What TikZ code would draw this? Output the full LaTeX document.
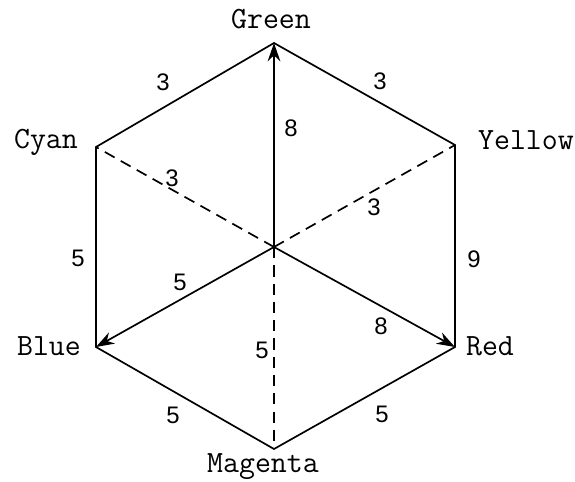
\documentclass[tikz,border=0pt]{standalone}
\usepackage{fontspec}
\newfontfamily\numfont{Liberation Sans}
\usetikzlibrary{arrows.meta}

\begin{document}
\begin{tikzpicture}[
    x=0.025cm, y=-0.025cm,
    edge/.style={line width=1.2pt},
    ray/.style={edge, -{Stealth[length=13pt, width=9pt]}},
    hidden/.style={edge, dash pattern=on 8pt off 5pt},
    colorname/.style={font=\ttfamily\fontsize{22}{26}\selectfont, inner sep=0pt, anchor=base},
    weight/.style={font=\numfont\fontsize{17}{20}\selectfont, inner sep=0pt}
]
    \useasboundingbox (0,0) rectangle (575,482);

    % Hexagon corners and centre
    \coordinate (ctr) at (274,247);
    \coordinate (green) at (274,43);
    \coordinate (yellow) at (455,145);
    \coordinate (red) at (455,347);
    \coordinate (magenta) at (274,449);
    \coordinate (blue) at (96,347);
    \coordinate (cyan) at (96,147);

    % Colour names
    \node[colorname] (lgreen) at (271,28) {Green};
    \node[colorname] (lcyan) at (46,148) {Cyan};
    \node[colorname] (lyellow) at (526,149) {Yellow};
    \node[colorname] (lblue) at (49,355) {Blue};
    \node[colorname] (lred) at (490,355) {Red};
    \node[colorname] (lmagenta) at (263,472) {Magenta};

    % Outer edges
    \draw[edge] (green) -- (yellow) -- (red) -- (magenta) -- (blue) -- (cyan) -- cycle;

    % Rays from the centre
    \draw[ray] (ctr) -- (green);
    \draw[ray] (ctr) -- (blue);
    \draw[ray] (ctr) -- (red);
    \draw[hidden] (ctr) -- (cyan);
    \draw[hidden] (ctr) -- (yellow);
    \draw[hidden] (ctr) -- (magenta);

    % Weights
    \node[weight] (wgc) at (163,82) {3};
    \node[weight] (wgy) at (380,81) {3};
    \node[weight] (wg) at (291,128) {8};
    \node[weight] (wc) at (172,178) {3};
    \node[weight] (wy) at (374,207) {3};
    \node[weight] (wcb) at (78,258) {5};
    \node[weight] (wyr) at (474,259) {9};
    \node[weight] (wb) at (180,282) {5};
    \node[weight] (wr) at (381,326) {8};
    \node[weight] (wm) at (262,350) {5};
    \node[weight] (wbm) at (173,415) {5};
    \node[weight] (wrm) at (382,414) {5};
\end{tikzpicture}
\end{document}
